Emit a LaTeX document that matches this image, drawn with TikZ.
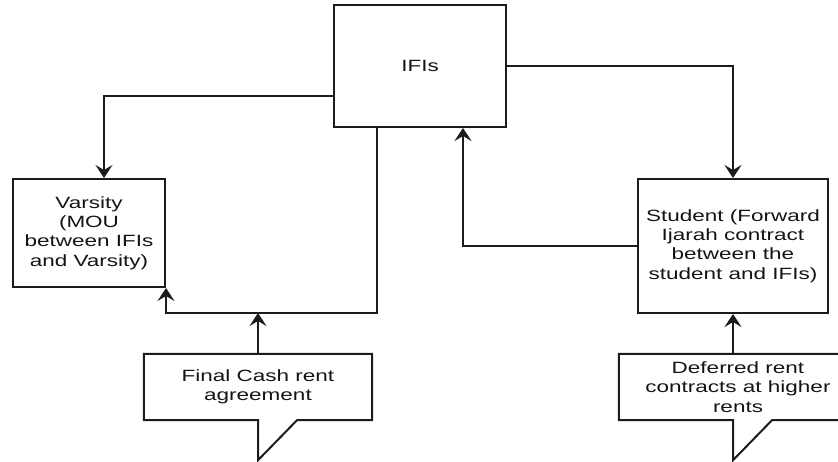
\documentclass[tikz,border=0pt]{standalone}
\usepackage{fontspec}
\setmainfont[FakeStretch=1.38]{Liberation Sans}
\usetikzlibrary{arrows.meta,calc}
\definecolor{linec}{HTML}{1C1C1C}
\definecolor{txtc}{HTML}{141414}

\begin{document}
\begin{tikzpicture}[x=1pt,y=-1pt,
  lbl/.style={align=center, inner sep=0pt, text=txtc,
    font=\fontsize{16.3}{19.2}\selectfont},
  box/.style={lbl, draw=linec, line width=2pt},
  outline/.style={draw=linec, line width=2pt, line join=miter},
  flow/.style={draw=linec, line width=2pt,
    -{Stealth[length=13pt,width=17pt,inset=5pt]}},
]
\useasboundingbox (0,0) rectangle (838,461);
\clip (0,0) rectangle (838,461);

% main parties
\node[box, minimum width=172pt, minimum height=122pt] (ifi) at (420,66) {IFIs};
\node[box, minimum width=152pt, minimum height=108pt] (varsity) at (89,233)
  {Varsity\\(MOU\\between IFIs\\and Varsity)};
\node[box, minimum width=190pt, minimum height=134pt] (student) at (733,246)
  {Student (Forward\\Ijarah contract\\between the\\student and IFIs)};

% callouts
\node[lbl, minimum width=228pt, minimum height=66pt] (c1) at (258,387)
  {Final Cash rent\\agreement};
\draw[outline] (c1.south east) -- (c1.north east) -- (c1.north west)
  -- (c1.south west) -- (c1.south) -- ($(c1.south)+(0,40)$)
  -- ($(c1.south)+(39,0)$) -- cycle;

\node[lbl, minimum width=238pt, minimum height=66pt] (c2) at (738,387)
  {Deferred rent\\contracts at higher\\rents};
\coordinate (c2tail) at (c2.south -| student.south);
\draw[outline] (c2.south east) -- (c2.north east) -- (c2.north west)
  -- (c2.south west) -- (c2tail) -- ($(c2tail)+(0,40)$)
  -- ($(c2tail)+(39,0)$) -- cycle;

% connectors
\coordinate (v1) at (104,96);
\draw[flow] (ifi.west |- v1) -| (varsity.north -| v1);

\coordinate (v2) at (377,313);
\draw[flow] (ifi.south -| v2) |- (varsity.south east |- v2) -- (varsity.south east);
\draw[flow] (c1.north) -- (c1.north |- v2);

\draw[flow] (ifi.east) -| (student.north);

\coordinate (s1) at (463,0);
\draw[flow] (student.west) -| (ifi.south -| s1);

\draw[flow] (c2.north -| student.south) -- (student.south);
\end{tikzpicture}
\end{document}
